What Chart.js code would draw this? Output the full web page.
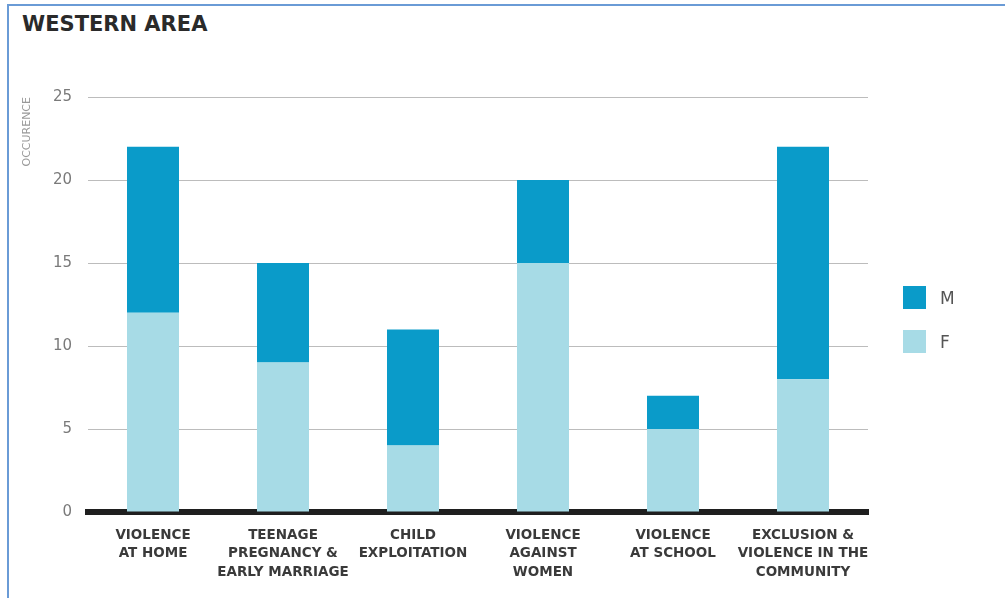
<!DOCTYPE html>
<html><head><meta charset="utf-8">
<script src="https://cdn.jsdelivr.net/npm/chart.js@4.4.0/dist/chart.umd.min.js"></script>
<style>
html,body{margin:0;padding:0;background:#fff;}
#wrap{position:relative;width:1005px;height:598px;overflow:hidden;background:#fff;}
#frameL{position:absolute;left:7px;top:4px;width:2px;height:594px;background:#6a9bd6;}
#frameT{position:absolute;left:7px;top:4px;width:998px;height:2px;background:#6a9bd6;}
#title{position:absolute;left:22px;top:12px;font:bold 21px "DejaVu Sans";color:#2a2a2a;letter-spacing:0px;}
#legend{position:absolute;left:903px;top:286px;font:17px "DejaVu Sans";color:#555;}
.item{position:relative;height:23px;margin-bottom:21px;}
.box{position:absolute;left:0;top:0;width:23px;height:23px;}
.lab{position:absolute;left:37px;top:1px;line-height:22px;}
canvas{position:absolute;left:0;top:0;}
</style></head>
<body>
<div id="wrap">
  <div id="frameL"></div><div id="frameT"></div>
  <div id="title">WESTERN AREA</div>
  <canvas id="c" width="1005" height="598"></canvas>
  <div id="legend"></div>
</div>
<script>
const categories = [
  ['VIOLENCE','AT HOME'],
  ['TEENAGE','PREGNANCY &','EARLY MARRIAGE'],
  ['CHILD','EXPLOITATION'],
  ['VIOLENCE','AGAINST','WOMEN'],
  ['VIOLENCE','AT SCHOOL'],
  ['EXCLUSION &','VIOLENCE IN THE','COMMUNITY']
];
const femaleValues = [12, 9, 4, 15, 5, 8];
const maleValues = [10, 6, 7, 5, 2, 14];
const seriesLabels = ['F', 'M'];
const seriesColors = ['#a7dbe6', '#0a9bc9'];
const yTicks = [0, 5, 10, 15, 20, 25];

const datasets = [
  {label: seriesLabels[0], data: femaleValues, backgroundColor: seriesColors[0]},
  {label: seriesLabels[1], data: maleValues, backgroundColor: seriesColors[1]}
].map(d => Object.assign(d, {categoryPercentage: 1.0, barPercentage: 0.4, borderWidth: 0}));

const chart = new Chart(document.getElementById('c'), {
  type: 'bar',
  data: {labels: categories, datasets},
  options: {
    responsive: false,
    animation: false,
    layout: {padding: {top: 97, left: 18, right: 137, bottom: 0}},
    plugins: {legend: {display: false}, tooltip: {enabled: false}, title: {display: false}},
    scales: {
      x: {
        stacked: true,
        z: 1,
        grid: {display: false, drawTicks: false},
        border: {display: true, color: '#1f1f1f', width: 6},
        ticks: {
          color: '#3a3a3a', padding: 14, maxRotation: 0, autoSkip: false,
          font: {family: 'DejaVu Sans', size: 13.5, weight: 'bold', lineHeight: 1.37}
        },
        afterFit: s => { s.height = 86; }
      },
      y: {
        stacked: true,
        min: 0, max: 25,
        afterBuildTicks: s => { s.ticks = yTicks.map(v => ({value: v})); },
        grid: {color: '#bcbcbc', lineWidth: 1, drawTicks: false},
        border: {display: false},
        ticks: {color: '#7a7a7a', padding: 16, font: {family: 'DejaVu Sans', size: 15}},
        title: {display: true, text: 'OCCURENCE', align: 'end', color: '#999',
                font: {family: 'DejaVu Sans', size: 11}, padding: {top: 3, bottom: 0}},
        afterFit: s => { s.width = 70; }
      }
    }
  }
});

// HTML legend built from the datasets (M first, as in the reference)
const leg = document.getElementById('legend');
chart.data.datasets.slice().reverse().forEach(ds => {
  const it = document.createElement('div'); it.className = 'item';
  const b = document.createElement('div'); b.className = 'box'; b.style.background = ds.backgroundColor;
  const t = document.createElement('div'); t.className = 'lab'; t.textContent = ds.label;
  it.appendChild(b); it.appendChild(t); leg.appendChild(it);
});
</script>
</body></html>
